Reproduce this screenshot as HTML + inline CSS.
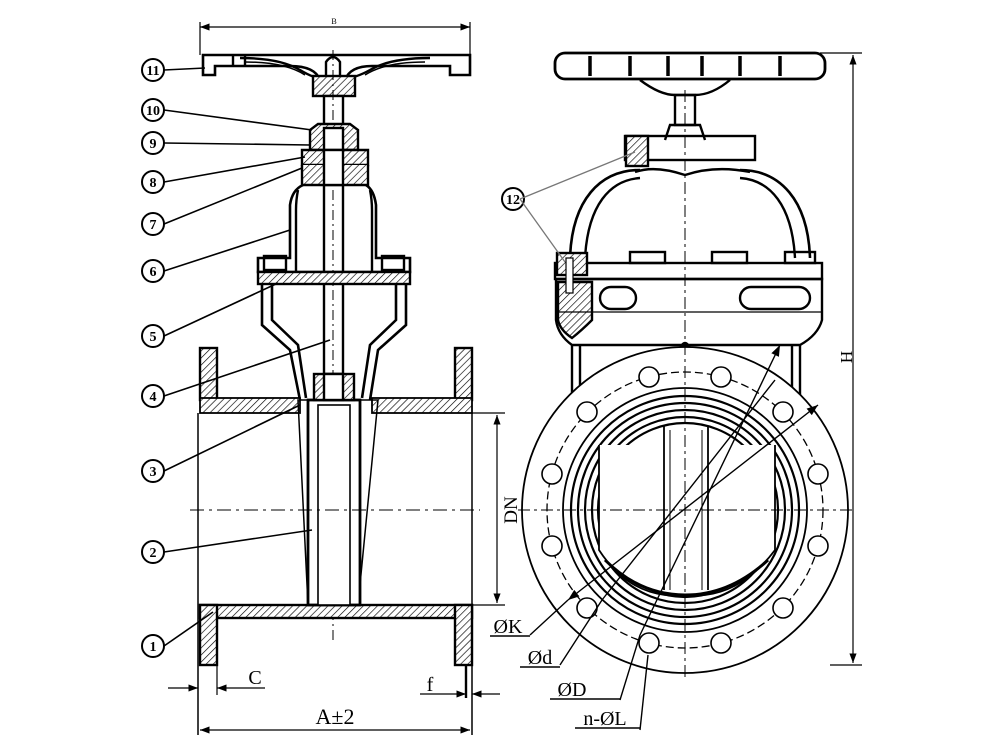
<!DOCTYPE html>
<html><head><meta charset="utf-8"><style>
html,body{margin:0;padding:0;background:#fff}
svg{display:block}
text{font-family:"Liberation Serif",serif;fill:#000}
</style></head><body>
<svg width="1000" height="750" viewBox="0 0 1000 750" xmlns="http://www.w3.org/2000/svg">
<defs>
<pattern id="h" width="5" height="5" patternUnits="userSpaceOnUse" patternTransform="rotate(45)">
<rect width="5" height="5" fill="#fff"/><line x1="0" y1="0" x2="0" y2="5" stroke="#000" stroke-width="1.3"/></pattern>
<marker id="a" markerWidth="8" markerHeight="6" refX="8" refY="3" orient="auto"><path d="M0,0 L8,3 L0,6z" fill="#000"/></marker>
<marker id="as" markerWidth="8" markerHeight="6" refX="0" refY="3" orient="auto"><path d="M8,0 L0,3 L8,6z" fill="#000"/></marker>
</defs>
<g fill="none" stroke="#000" stroke-width="2.4">
<!-- B dimension -->
<line x1="200" y1="27" x2="470" y2="27" stroke-width="1.2" marker-start="url(#as)" marker-end="url(#a)"/>
<line x1="200" y1="22" x2="200" y2="55" stroke-width="1.2"/>
<line x1="470" y1="22" x2="470" y2="55" stroke-width="1.2"/>
<!-- handwheel left -->
<path d="M203,55 L470,55 L470,75 L450,75 L450,66 L372,66 Q350,66 345,80 L320,80 Q315,66 290,66 L215,66 L215,75 L203,75 Z" stroke-width="2.6"/>
<path d="M240,58 Q280,58 300,70 Q320,82 330,78 M430,58 Q390,58 370,70 Q352,80 340,78"/>
<path d="M245,62 Q285,62 305,75 M425,62 Q385,62 365,75" stroke-width="1.5"/>
<path d="M233,55 L233,66 M245,55 L245,66"/>
<rect x="313" y="76" width="42" height="20" fill="url(#h)"/>
<path d="M326,76 L326,62 Q333,52 340,62 L340,76"/>
<!-- stem -->
<rect x="324" y="96" width="19" height="278" fill="#fff"/>
<line x1="333" y1="50" x2="333" y2="640" stroke-width="1" stroke-dasharray="10,4,2,4"/>
<!-- packing -->
<path d="M310,150 L310,130 L318,124 L350,124 L358,130 L358,150 Z" fill="url(#h)"/>
<rect x="324" y="128" width="19" height="28" fill="#fff"/>
<path d="M302,150 L368,150 L368,165 L302,165 Z" fill="url(#h)"/>
<path d="M302,165 L302,185 L368,185 L368,165" fill="url(#h)"/>
<rect x="324" y="150" width="19" height="35" fill="#fff"/>
<!-- bonnet -->
<path d="M303,185 Q292,190 290,205 L290,258 L258,258 L258,272 L410,272 L410,258 L376,258 L376,205 Q374,190 366,185" fill="none" stroke-width="2.6"/>
<path d="M298,190 Q296,200 296,210 L296,272 M370,190 Q372,200 372,210 L372,272"/>
<rect x="258" y="272" width="152" height="12" fill="url(#h)"/>
<rect x="264" y="256" width="22" height="14"/><rect x="382" y="256" width="22" height="14"/>
<!-- body neck -->
<path d="M262,284 L262,325 L290,350 L300,400 M272,284 L272,320 L298,345 L306,398" stroke-width="2.6"/>
<path d="M406,284 L406,325 L378,350 L370,400 M396,284 L396,320 L370,345 L362,398" stroke-width="2.6"/>
<!-- flanges top -->
<rect x="200" y="348" width="17" height="52" fill="url(#h)"/>
<rect x="455" y="348" width="17" height="52" fill="url(#h)"/>
<rect x="200" y="398" width="100" height="15" fill="url(#h)" stroke-width="1.8"/>
<rect x="372" y="398" width="100" height="15" fill="url(#h)" stroke-width="1.8"/>
<!-- bottom -->
<rect x="200" y="605" width="272" height="13" fill="url(#h)"/>
<rect x="200" y="605" width="17" height="60" fill="url(#h)"/>
<rect x="455" y="605" width="17" height="60" fill="url(#h)"/>
<line x1="198" y1="413" x2="198" y2="735" stroke-width="1.5"/>
<line x1="472" y1="413" x2="472" y2="735" stroke-width="1.5"/>
<!-- wedge -->
<path d="M298,400 L378,400 L358,605 L308,605 Z" stroke-width="1.5"/>
<rect x="308" y="400" width="52" height="205" fill="#fff" stroke-width="2.8"/>
<rect x="314" y="374" width="40" height="26" fill="url(#h)"/>
<rect x="324" y="374" width="19" height="26" fill="#fff"/>
<rect x="318" y="405" width="32" height="200" fill="#fff" stroke-width="1.6"/>
<line x1="190" y1="510" x2="480" y2="510" stroke-width="1" stroke-dasharray="14,5,3,5"/>
<!-- DN -->
<line x1="472" y1="413" x2="505" y2="413" stroke-width="1.2"/>
<line x1="472" y1="605" x2="505" y2="605" stroke-width="1.2"/>
<line x1="497" y1="415" x2="497" y2="603" stroke-width="1.2" marker-start="url(#as)" marker-end="url(#a)"/>
<!-- C f A -->
<line x1="168" y1="688" x2="198" y2="688" stroke-width="1.2" marker-end="url(#a)"/>
<line x1="238" y1="688" x2="217" y2="688" stroke-width="1.2" marker-end="url(#a)"/>
<line x1="238" y1="688" x2="265" y2="688" stroke-width="1.2"/>
<line x1="217" y1="665" x2="217" y2="695" stroke-width="1.2"/>
<line x1="420" y1="694" x2="466" y2="694" stroke-width="1.2" marker-end="url(#a)"/>
<line x1="500" y1="694" x2="472" y2="694" stroke-width="1.2" marker-end="url(#a)"/>
<line x1="466" y1="665" x2="466" y2="698" stroke-width="2.4"/>
<line x1="200" y1="730" x2="470" y2="730" stroke-width="1.2" marker-start="url(#as)" marker-end="url(#a)"/>
<!-- leaders -->
<g stroke-width="1.6">
<line x1="164" y1="70" x2="205" y2="68"/>
<line x1="164" y1="110" x2="312" y2="130"/>
<line x1="164" y1="143" x2="310" y2="145"/>
<line x1="164" y1="182" x2="305" y2="157"/>
<line x1="164" y1="224" x2="302" y2="168"/>
<line x1="164" y1="271" x2="290" y2="230"/>
<line x1="164" y1="336" x2="278" y2="283"/>
<line x1="164" y1="396" x2="330" y2="340"/>
<line x1="164" y1="471" x2="300" y2="405"/>
<line x1="164" y1="552" x2="312" y2="530"/>
<line x1="164" y1="646" x2="213" y2="612"/>
</g>
<g stroke-width="2" fill="#fff">
<circle cx="153" cy="70" r="11"/><circle cx="153" cy="110" r="11"/><circle cx="153" cy="143" r="11"/>
<circle cx="153" cy="182" r="11"/><circle cx="153" cy="224" r="11"/><circle cx="153" cy="271" r="11"/>
<circle cx="153" cy="336" r="11"/><circle cx="153" cy="396" r="11"/><circle cx="153" cy="471" r="11"/>
<circle cx="153" cy="552" r="11"/><circle cx="153" cy="646" r="11"/>
<circle cx="513" cy="199" r="11"/>
</g>

<!-- RIGHT VIEW -->
<rect x="555" y="53" width="270" height="26" rx="10" stroke-width="2.8"/>
<path d="M590,56 L590,76 M630,56 L630,76 M668,56 L668,76 M702,56 L702,76 M740,56 L740,76 M780,56 L780,76" stroke-width="3.5"/>
<path d="M640,80 Q660,95 675,95 L695,95 Q712,95 730,80"/>
<rect x="675" y="95" width="20" height="30"/>
<path d="M665,140 L670,125 L700,125 L705,140"/>
<rect x="625" y="136" width="130" height="24"/>
<rect x="626" y="136" width="22" height="30" fill="url(#h)"/>
<path d="M635,172 Q655,165 685,175 Q715,165 750,172"/>
<path d="M570,258 C572,200 600,170 640,170 M810,258 C808,200 780,170 740,170" stroke-width="2.6"/>
<path d="M585,258 C588,205 610,180 640,178 M795,258 C792,205 770,180 740,178"/>
<rect x="555" y="263" width="267" height="16"/>
<rect x="630" y="252" width="35" height="11"/><rect x="712" y="252" width="35" height="11"/><rect x="785" y="252" width="30" height="11"/>
<path d="M556,279 L822,279 L822,320 Q818,335 800,345 L572,345 Q558,335 556,320 Z"/>
<path d="M558,282 L592,282 L592,320 Q582,330 572,338 Q560,330 558,320 Z" fill="url(#h)"/>
<rect x="557" y="253" width="30" height="22" fill="url(#h)"/>
<rect x="566" y="258" width="7" height="35" fill="#fff" stroke-width="1.2"/>
<rect x="600" y="287" width="36" height="22" rx="11"/><rect x="740" y="287" width="70" height="22" rx="11"/>
<line x1="556" y1="312" x2="822" y2="312" stroke-width="1.2"/>
<path d="M572,345 L572,400 M800,345 L800,400 M580,345 L580,390 M792,345 L792,390"/>
<path d="M680,348 Q685,338 690,348 Z" fill="#000"/>
<!-- flange -->
<circle cx="685" cy="510" r="163" fill="#fff" stroke-width="1.8"/>
<circle cx="685" cy="510" r="138" stroke-width="1.3" stroke-dasharray="8,4"/>
<circle cx="685" cy="510" r="122" stroke-width="1.8"/>
<circle cx="685" cy="510" r="114" stroke-width="2.2"/>
<circle cx="685" cy="510" r="107" stroke-width="2.2"/>
<circle cx="685" cy="510" r="100" stroke-width="2.2"/>
<circle cx="685" cy="510" r="93" stroke-width="2.2"/>
<circle cx="685" cy="510" r="87" stroke-width="2.2"/>
<g stroke-width="1.6" fill="#fff">
<circle cx="649" cy="377" r="10"/><circle cx="721" cy="377" r="10"/>
<circle cx="587" cy="412" r="10"/><circle cx="783" cy="412" r="10"/>
<circle cx="552" cy="474" r="10"/><circle cx="818" cy="474" r="10"/>
<circle cx="552" cy="546" r="10"/><circle cx="818" cy="546" r="10"/>
<circle cx="587" cy="608" r="10"/><circle cx="783" cy="608" r="10"/>
<circle cx="649" cy="643" r="10"/><circle cx="721" cy="643" r="10"/>
</g>
<path d="M599,445 L599,550 Q625,590 665,595 L705,595 Q745,590 775,550 L775,445" fill="#fff" stroke-width="1.8"/>
<path d="M605,560 Q640,595 685,595 Q730,595 768,560" stroke-width="3"/>
<line x1="664" y1="426" x2="664" y2="590" stroke-width="1.8"/><line x1="708" y1="426" x2="708" y2="590" stroke-width="1.8"/>
<line x1="670" y1="430" x2="670" y2="590" stroke-width="1"/><line x1="702" y1="430" x2="702" y2="590" stroke-width="1"/>
<line x1="685" y1="90" x2="685" y2="680" stroke-width="1" stroke-dasharray="12,4,3,4"/>
<line x1="518" y1="510" x2="852" y2="510" stroke-width="1" stroke-dasharray="12,4,3,4"/>
<!-- diameters -->
<g stroke-width="1.4">
<line x1="780" y1="345" x2="640" y2="635" marker-start="url(#as)"/>
<line x1="640" y1="635" x2="620" y2="700"/>
<line x1="775" y1="380" x2="602" y2="600"/>
<line x1="818" y1="405" x2="568" y2="600" marker-start="url(#as)" marker-end="url(#a)"/>
<line x1="568" y1="600" x2="530" y2="635"/>
<line x1="602" y1="600" x2="560" y2="665"/>
<line x1="648" y1="655" x2="640" y2="730"/>
<line x1="490" y1="636" x2="530" y2="636"/>
<line x1="520" y1="667" x2="560" y2="667"/>
<line x1="550" y1="699" x2="620" y2="699"/>
<line x1="575" y1="728" x2="640" y2="728"/>
</g>
<line x1="520" y1="199" x2="635" y2="152" stroke="#777" stroke-width="1.3"/>
<line x1="520" y1="199" x2="565" y2="262" stroke="#777" stroke-width="1.3"/>
<!-- H -->
<line x1="820" y1="53" x2="862" y2="53" stroke-width="1.2"/>
<line x1="830" y1="665" x2="862" y2="665" stroke-width="1.2"/>
<line x1="853" y1="55" x2="853" y2="663" stroke-width="1.2" marker-start="url(#as)" marker-end="url(#a)"/>
</g>
<g font-size="14" font-weight="bold" text-anchor="middle">
<text x="153" y="75">11</text><text x="153" y="115">10</text><text x="153" y="148">9</text>
<text x="153" y="187">8</text><text x="153" y="229">7</text><text x="153" y="276">6</text>
<text x="153" y="341">5</text><text x="153" y="401">4</text><text x="153" y="476">3</text>
<text x="153" y="557">2</text><text x="153" y="651">1</text><text x="513" y="204">12</text>
</g>
<text x="334" y="24" font-size="8" text-anchor="middle">B</text>
<text x="517" y="510" font-size="19" text-anchor="middle" transform="rotate(-90 517 510)">DN</text>
<text x="852" y="357" font-size="17" text-anchor="middle" transform="rotate(-90 852 357)">H</text>
<text x="255" y="684" font-size="20" text-anchor="middle">C</text>
<text x="430" y="691" font-size="20" text-anchor="middle">f</text>
<text x="335" y="724" font-size="22" text-anchor="middle">A±2</text>
<text x="508" y="633" font-size="20" text-anchor="middle">ØK</text>
<text x="540" y="664" font-size="20" text-anchor="middle">Ød</text>
<text x="572" y="696" font-size="20" text-anchor="middle">ØD</text>
<text x="605" y="725" font-size="20" text-anchor="middle">n-ØL</text>
</svg>
</body></html>
